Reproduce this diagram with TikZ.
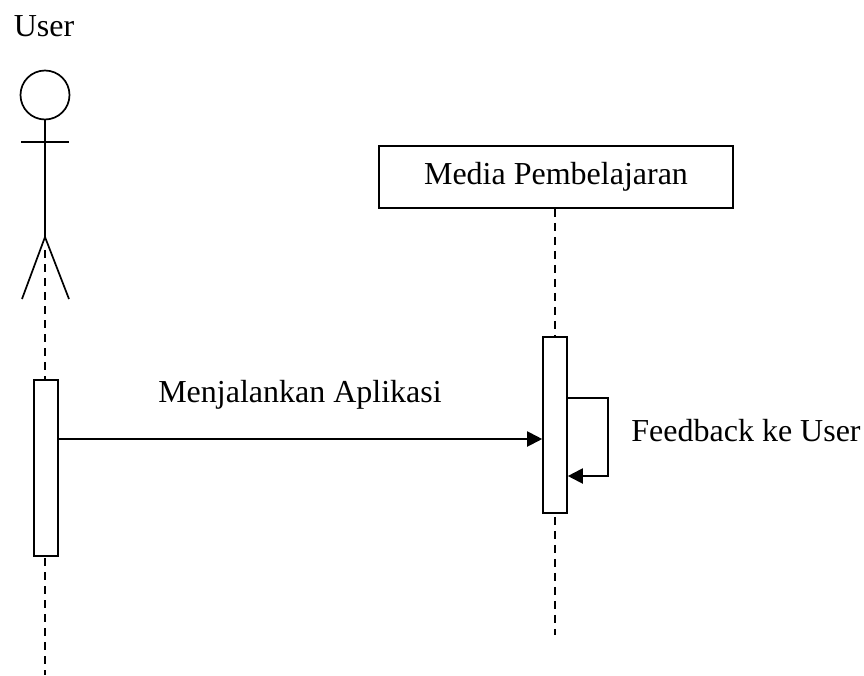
\documentclass[tikz,border=0pt]{standalone}
\usepackage{fontspec}
\setmainfont{Liberation Serif}
\usetikzlibrary{arrows.meta}
\tikzstyle{lifeline}=[draw=black,line width=1.5pt,dash pattern=on 8pt off 6pt]
\tikzstyle{stick}=[draw=black,line width=1.7pt]
\tikzstyle{activation}=[rectangle,fill=white,draw=black,line width=1.6pt,minimum width=24pt,inner sep=0pt]
\tikzstyle{message}=[draw=black,line width=2pt,-{Triangle[length=15pt,width=15pt]}]
\tikzstyle{msglabel}=[inner sep=0pt,font=\fontsize{32}{36}\selectfont]
\begin{document}
\begin{tikzpicture}[x=1pt,y=-1pt]
	\useasboundingbox (0,0) rectangle (864,675);
	% actor
	\node [style=msglabel] (user) at (44, 26) {User};
	\node [circle,draw=black,line width=1.7pt,minimum size=49pt,inner sep=0pt] (head) at (45, 95) {};
	\coordinate (hip) at (45, 237);
	\coordinate (armL) at (21, 142);
	\coordinate (armR) at (69, 142);
	\coordinate (footL) at (22, 299);
	\coordinate (footR) at (69, 299);
	\draw [style=stick] (head.south) -- (hip);
	\draw [style=stick] (armL) -- (armR);
	\draw [style=stick] (footL) -- (hip) -- (footR);
	% lifelines
	\coordinate (userStart) at (45, 250);
	\coordinate (userEnd) at (45, 675);
	\coordinate (mediaEnd) at (555, 635);
	\node [style=msglabel,rectangle,draw=black,fill=white,line width=1.6pt,minimum width=354pt,minimum height=62pt] (media) at (556, 177) {Media Pembelajaran};
	\draw [style=lifeline] (userStart) -- (userEnd);
	\draw [style=lifeline] (media.south -| mediaEnd) -- (mediaEnd);
	% activations
	\node [style=activation,minimum height=176pt] (actUser) at (46, 468) {};
	\node [style=activation,minimum height=176pt] (actMedia) at (555, 425) {};
	% messages
	\draw [style=message] (actUser.east |- 0,439) -- (actMedia.west |- 0,439);
	\node [style=msglabel] (msg1) at (300, 395) {Menjalankan Aplikasi};
	\coordinate (selfA) at (608, 398);
	\coordinate (selfB) at (608, 476);
	\draw [style=message] (actMedia.east |- 0,398) -- (selfA) -- (selfB) -- (actMedia.east |- 0,476);
	\node [style=msglabel] (msg2) at (746, 431) {Feedback ke User};
\end{tikzpicture}
\end{document}
